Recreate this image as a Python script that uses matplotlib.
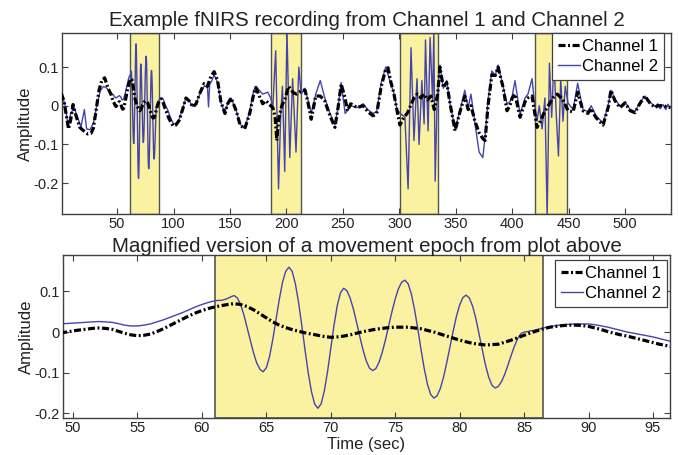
import numpy as np
import matplotlib
matplotlib.use("Agg")
import matplotlib.pyplot as plt

plt.rcParams['font.family'] = ['Liberation Sans', 'DejaVu Sans']

# ---------------- data ----------------
# movement epochs (sec)
epoch_start = [61.0, 186.0, 301.0, 420.0]
epoch_end = [87.0, 212.5, 334.6, 449.0]

# Channel 1, before the magnified window
t1_pre = [0.5, 3, 5, 7, 9, 11, 13.5, 17, 20, 24, 27, 29, 31.5, 34, 36.5, 39, 42, 44.5, 46.5, 48.5]
ch1_pre = [0.032, 0.012, -0.025, -0.06, -0.035, 0.003, -0.025, -0.056, -0.064, -0.073, -0.071,
           -0.058, -0.01, 0.04, 0.066, 0.072, 0.045, 0.03, 0.012, 0.0]

# Channel 2, before the magnified window
t2_pre = [0.5, 2, 4, 6.5, 9, 12, 15, 18, 21, 23, 26, 29, 32, 35, 38, 41, 44, 46.5, 48.5]
ch2_pre = [0.035, 0.02, 0.0, -0.05, -0.02, -0.005, -0.03, -0.055, -0.01, -0.06, -0.062, -0.045,
           0.0, 0.038, 0.05, 0.045, 0.035, 0.028, 0.021]

# Magnified window, Channel 1 (every 0.5 s from 49 to 96.5)
ch1_zoom = [-0.002, 0.0, 0.003, 0.005, 0.007, 0.009, 0.010, 0.009, 0.007, 0.002,
            -0.003, -0.007, -0.009, -0.008, -0.005, 0.001, 0.008, 0.016, 0.024, 0.032,
            0.040, 0.047, 0.053, 0.058, 0.062, 0.065, 0.068, 0.070, 0.068, 0.063,
            0.055, 0.045, 0.035, 0.025, 0.017, 0.011, 0.006, 0.002, -0.002, -0.005,
            -0.008, -0.011, -0.013, -0.012, -0.010, -0.007, -0.003, 0.001, 0.004, 0.007,
            0.009, 0.011, 0.012, 0.012, 0.012, 0.010, 0.008, 0.004, 0.0, -0.005,
            -0.010, -0.015, -0.020, -0.024, -0.028, -0.030, -0.032, -0.031, -0.030, -0.025,
            -0.020, -0.014, -0.008, -0.002, 0.003, 0.008, 0.012, 0.014, 0.016, 0.017,
            0.017, 0.016, 0.014, 0.010, 0.006, 0.001, -0.003, -0.007, -0.010, -0.014,
            -0.018, -0.022, -0.026, -0.030, -0.033, -0.036]
t1_zoom = 49.0 + 0.5 * np.arange(len(ch1_zoom))

# Magnified window, Channel 2 (0.5 s to 60.5, 0.25 s from 61 to 87, 0.5 s after)
ch2_zoom = [0.020, 0.021, 0.022, 0.023, 0.024, 0.025, 0.026, 0.025, 0.024, 0.021,
            0.017, 0.015, 0.015, 0.017, 0.020, 0.025, 0.030, 0.036, 0.042, 0.048,
            0.055, 0.062, 0.068, 0.073,
            0.077, 0.078, 0.078, 0.080, 0.083, 0.087, 0.090,
            0.084, 0.068, 0.043, 0.012, -0.020, -0.051, -0.076, -0.092, -0.098,
            -0.088, -0.060, -0.018, 0.031, 0.080, 0.122, 0.150, 0.160,
            0.150, 0.119, 0.073, 0.016, -0.044, -0.101, -0.147, -0.178, -0.188,
            -0.177, -0.145, -0.097, -0.040, 0.017, 0.065, 0.097, 0.108,
            0.102, 0.084, 0.057, 0.024, -0.011, -0.044, -0.071, -0.089, -0.095,
            -0.090, -0.074, -0.049, -0.018, 0.017, 0.051, 0.082, 0.107, 0.123, 0.128,
            0.119, 0.094, 0.055, 0.008, -0.043, -0.090, -0.129, -0.154, -0.163,
            -0.157, -0.139, -0.111, -0.075, -0.036, 0.003, 0.039, 0.067, 0.085, 0.091,
            0.084, 0.064, 0.034, -0.004, -0.043, -0.081, -0.111, -0.131, -0.138,
            -0.134, -0.122, -0.104, -0.081, -0.057, -0.035, -0.016, -0.004, 0.000,
            0.001, 0.003, 0.004, 0.006, 0.008, 0.010, 0.012, 0.013,
            0.016, 0.018, 0.019, 0.020, 0.020, 0.020, 0.018, 0.015, 0.012, 0.008,
            0.004, 0.0, -0.003, -0.006, -0.009, -0.012, -0.016, -0.020, -0.024]
t2_zoom = np.concatenate([49.0 + 0.5 * np.arange(24),
                          61.0 + 0.25 * np.arange(105),
                          87.5 + 0.5 * np.arange(19)])

# Channel 1, after the magnified window
t1_post = [99.5, 102, 105, 108, 111, 114, 117, 120, 123, 127, 130, 133, 136, 139, 142, 145.5, 148,
           151, 155.5, 159, 163, 167.5, 171, 173, 176, 179, 182, 186, 188, 190, 191.5, 193, 196,
           199, 202, 206, 209, 213.5, 216.5, 219, 222, 226, 230, 234, 238.6, 243, 246, 248.5,
           252, 254, 257, 262.6, 268, 272, 276.7, 280, 284, 288, 290, 292.6, 295, 298, 300.6,
           304, 307, 310, 313, 316, 319, 322, 325, 328, 331, 334, 336, 339, 342, 345, 349.4,
           354, 358, 361, 363.5, 367, 370.7, 374, 376, 378.6, 382, 385, 387.5, 392, 395.4, 398,
           400, 402.5, 407, 411.4, 414, 417.6, 420, 422, 425, 428, 432, 436, 440, 445, 449.5,
           454, 458, 462.7, 467, 470, 474, 480.5, 485, 487.5, 491, 495.5, 500, 504.5, 508.8,
           513, 517.6, 522, 526.5, 529, 533.6, 540]
ch1_post = [-0.052, -0.05, -0.038, -0.01, 0.02, 0.012, -0.003, 0.005, 0.03, 0.057, 0.05, 0.075,
            0.088, 0.065, 0.01, -0.02, 0.005, 0.02, -0.013, -0.05, -0.06, -0.02, 0.03, 0.047,
            0.025, 0.005, 0.013, 0.0, -0.005, -0.03, -0.09, -0.035, 0.0, 0.02, 0.05, 0.034, 0.03,
            0.04, 0.04, 0.01, -0.035, 0.025, 0.025, 0.012, -0.026, -0.056, 0.0, 0.056, 0.02,
            -0.013, 0.005, -0.005, 0.0, -0.015, -0.026, -0.02, 0.05, 0.095, 0.098, 0.06, 0.035,
            -0.013, -0.05, -0.03, -0.02, 0.0, 0.02, 0.03, 0.02, 0.03, 0.015, 0.025, -0.01, 0.03,
            0.1, 0.047, 0.06, 0.005, -0.065, -0.013, 0.025, -0.01, 0.0, -0.04, -0.07, -0.085,
            -0.09, 0.0, 0.08, 0.078, 0.1, 0.047, -0.013, 0.0, 0.02, 0.03, -0.03, 0.01, 0.02,
            0.025, -0.02, -0.056, -0.04, -0.02, 0.0, 0.02, 0.03, 0.015, -0.013, -0.016, 0.035,
            -0.013, -0.02, -0.007, -0.03, -0.05, -0.005, 0.04, 0.013, -0.005, 0.007, -0.013,
            -0.018, 0.005, 0.025, 0.007, -0.005, 0.0, 0.0, -0.005]

# Channel 2, after the magnified window
t2_post = [99.5, 102, 105, 108, 111, 114, 117, 120, 123, 127, 130, 131, 132, 134, 136, 139, 142,
           145.5, 148, 151, 155.5, 159, 163, 167.5, 171, 173, 176, 179, 183.5, 186, 188, 190.5,
           193, 195, 196.5, 198.5, 200.5, 203, 205.5, 208.5, 211, 213, 216.5, 219, 222, 226,
           230, 234, 238.6, 243, 246, 248.5, 252, 254, 257, 262.6, 268, 272, 276.7, 280, 284,
           288, 292.6, 295, 298, 301, 305, 307.8, 310.4, 313, 315.7, 317.5, 320, 322, 323.2,
           325.5, 327.3, 329.5, 330.6, 331.8, 333.5, 336, 339, 342, 345, 349.4, 354, 358, 361,
           363.5, 367, 370.7, 374, 376, 378.6, 382, 385, 387.5, 392, 395.4, 398, 400, 402.5,
           407, 411.4, 414, 417.6, 420, 422, 424, 426.5, 429, 431, 433, 435, 437, 439, 441,
           443, 445, 447, 449.5, 454, 458, 462.7, 467, 470, 474, 480.5, 485, 487.5, 491, 495.5,
           500, 504.5, 508.8, 513, 517.6, 522, 526.5, 529, 531, 533.6, 536, 538, 540]
ch2_post = [-0.045, -0.048, -0.035, -0.008, 0.02, 0.012, -0.002, 0.005, 0.028, 0.05, 0.05, -0.003,
            0.055, 0.065, 0.08, 0.06, 0.008, -0.018, 0.006, 0.02, -0.012, -0.048, -0.058, -0.015,
            0.04, 0.05, 0.04, 0.03, 0.035, 0.02, 0.0, 0.142, -0.215, -0.02, 0.05, -0.17, 0.195,
            -0.134, 0.07, -0.12, 0.1, 0.03, 0.045, 0.015, -0.02, 0.03, 0.065, 0.02, -0.02,
            -0.05, 0.0, 0.06, -0.02, -0.013, 0.0, -0.005, 0.005, -0.01, -0.02, -0.015, 0.06,
            0.1, 0.055, 0.035, -0.01, -0.02, -0.03, -0.215, 0.15, -0.09, 0.07, -0.1, 0.065,
            -0.047, 0.17, -0.065, 0.176, 0.013, 0.195, -0.195, 0.013, 0.105, 0.045, 0.065, 0.005,
            -0.06, -0.01, 0.04, -0.005, 0.03, -0.045, -0.12, -0.134, -0.08, 0.013, 0.09, 0.078,
            0.105, 0.05, 0.005, 0.01, 0.025, 0.065, -0.022, 0.02, 0.03, 0.07, 0.0, -0.04, 0.0,
            -0.06, 0.02, -0.29, 0.11, -0.03, 0.12, -0.02, -0.13, 0.07, -0.04, 0.05, 0.007,
            -0.01, 0.058, -0.01, -0.015, 0.0, -0.025, -0.045, 0.0, 0.04, 0.018, -0.002, 0.01,
            -0.01, -0.015, 0.008, 0.025, 0.01, -0.002, 0.005, -0.008, 0.003, -0.01, 0.004,
            -0.006]

assert len(t1_pre) == len(ch1_pre) and len(t2_pre) == len(ch2_pre)
assert len(t2_zoom) == len(ch2_zoom)
assert len(t1_post) == len(ch1_post) and len(t2_post) == len(ch2_post)

t1_all = np.concatenate([t1_pre, t1_zoom, t1_post])
ch1_all = np.concatenate([ch1_pre, ch1_zoom, ch1_post])
t2_all = np.concatenate([t2_pre, t2_zoom, t2_post])
ch2_all = np.concatenate([ch2_pre, ch2_zoom, ch2_post])

yticks = [-0.2, -0.1, 0, 0.1]
ytick_labels = ['-0.2', '-0.1', '0', '0.1']
xticks_top = list(range(50, 501, 50))
xticks_bot = list(range(50, 96, 5))

title_top = 'Example fNIRS recording from Channel 1 and Channel 2'
title_bot = 'Magnified version of a movement epoch from plot above'

# ---------------- style ----------------
YELLOW = '#faf2a0'
BAND_EDGE = '#555550'
BLUE = '#4444b0'
SPINE = '#404040'
TEXT = '#222222'
ch1_style = dict(color='black', lw=2.3, linestyle=(0, (2.2, 0.8, 0.6, 0.8)))
ch2_style = dict(color=BLUE, lw=1.0)
legend_kw = dict(loc='upper right', fontsize=12, frameon=True, fancybox=False,
                 framealpha=1, edgecolor=SPINE, borderpad=0.35, labelspacing=0.3,
                 handlelength=1.3, handletextpad=0.15, borderaxespad=0.0)

fig = plt.figure(figsize=(6.79, 4.55), dpi=100)
ax1 = fig.add_axes([62 / 679, 1 - 214 / 455, 609 / 679, 181 / 455])
ax2 = fig.add_axes([63 / 679, 1 - 418 / 455, 607 / 679, 163 / 455])


def style_axes(ax):
    for s in ax.spines.values():
        s.set_color(SPINE)
        s.set_linewidth(1.0)
    ax.tick_params(direction='in', length=4, width=0.8, color=SPINE,
                   top=True, right=True, labelsize=10.5, pad=2.5, labelcolor=TEXT)
    ax.set_yticks(yticks)
    ax.set_yticklabels(ytick_labels)
    ax.set_ylabel('Amplitude', fontsize=12, labelpad=0.5, color=TEXT)


# top panel
for s, e in zip(epoch_start, epoch_end):
    ax1.axvspan(s, e, facecolor=YELLOW, edgecolor=BAND_EDGE, lw=1.0, zorder=0)
l2, = ax1.plot(t2_all, ch2_all, zorder=2, label='Channel 2', **ch2_style)
l1, = ax1.plot(t1_all, ch1_all, zorder=3, label='Channel 1', **ch1_style)
ax1.set_xlim(1.2, 540.7)
ax1.set_ylim(-0.28, 0.188)
ax1.set_xticks(xticks_top)
style_axes(ax1)
ax1.set_title(title_top, fontsize=14.8, pad=5, color=TEXT)
leg1 = ax1.legend(handles=[l1, l2], bbox_to_anchor=(0.9885, 1.0), **legend_kw)
leg1.get_frame().set_linewidth(0.9)

# bottom panel
ax2.axvspan(epoch_start[0], 86.5, facecolor=YELLOW, edgecolor=BAND_EDGE, lw=1.2, zorder=0)
m2, = ax2.plot(t2_zoom, ch2_zoom, zorder=2, label='Channel 2', **ch2_style)
m1, = ax2.plot(t1_zoom, ch1_zoom, zorder=3, label='Channel 1', **ch1_style)
ax2.set_xlim(49.22, 96.32)
ax2.set_ylim(-0.212, 0.19)
ax2.set_xticks(xticks_bot)
style_axes(ax2)
ax2.set_xlabel('Time (sec)', fontsize=12, labelpad=1, color=TEXT)
ax2.set_title(title_bot, fontsize=14.8, pad=2, color=TEXT)
leg2 = ax2.legend(handles=[m1, m2], bbox_to_anchor=(0.995, 0.969), **legend_kw)
leg2.get_frame().set_linewidth(0.9)

fig.savefig('out.png', dpi=100)
